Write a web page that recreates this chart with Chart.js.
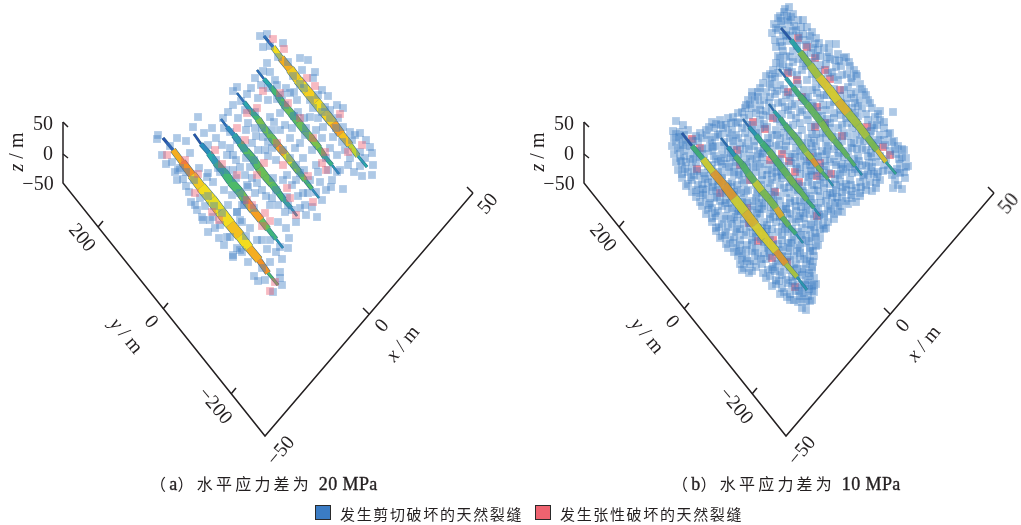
<!DOCTYPE html>
<html>
<head>
<meta charset="utf-8">
<title>水平应力差</title>
<script src="https://cdn.jsdelivr.net/npm/chart.js@4"></script>
<style>
  html, body { margin: 0; background: #fff; }
  #wrap { position: relative; width: 1021px; height: 525px; overflow: hidden; }
  #chart { position: absolute; left: 0; top: 0; filter: blur(0.45px); }
  .lbl { position: absolute; white-space: nowrap; color: #231f20; font-family: "Liberation Serif", serif; font-size: 20px; line-height: 1; transform: translate(-50%, -50%) rotate(var(--r)); }
  .lbl i { font-style: italic; }
  .cap { position: absolute; top: 474px; white-space: nowrap; color: #231f20; font-family: "Noto Sans CJK SC", sans-serif; font-size: 16px; line-height: 18px; letter-spacing: 3.2px; }
  .cap b { font-family: "Liberation Serif", serif; font-weight: normal; font-size: 18px; letter-spacing: 0.4px; -webkit-text-stroke: 0.35px #231f20; }
  .leg { position: absolute; top: 505px; white-space: nowrap; color: #231f20; font-family: "Noto Sans CJK SC", sans-serif; font-size: 15px; line-height: 18px; letter-spacing: 1.65px; }
  .sw { position: absolute; top: 505px; width: 14px; height: 13px; border: 1.5px solid #2a2a2a; }
</style>
</head>
<body>
<div id="wrap"><canvas id="chart" width="1021" height="525"></canvas></div>
<script>
const panelShift = 521;

const axisFrame = [[63,122],[63,183],[265,436],[473,193]];
const axisTicks = [
  [[63,122],[68,127]], [[63,154],[68,158]],
  [[98,227],[103,221]], [[163,309],[168,303]], [[231,394],[236,388]],
  [[369,314],[363,308]], [[473,193],[467,187]]
];

const tickLabels = [
  ['50', 43, 123, 0], ['0', 48, 153, 0], ['\u221250', 38, 183, 0],
  ['200', 83, 237, 50], ['0', 152, 321, 50], ['\u2212200', 216, 405, 50],
  ['\u221250', 280, 450, -50], ['0', 381, 325, -50], ['50', 487, 203, -50]
];
const axisTitles = [
  ['<i>z</i> / m', 16, 152, -90], ['<i>y</i> / m', 127, 335, 50], ['<i>x</i> / m', 402, 343, -50]
];

const legendNames = ['发生剪切破坏的天然裂缝', '发生张性破坏的天然裂缝'];

const fracturesA = [
  [[163,138,.05],[173,150,.82],[182,162,.88],[192,175,.76],[201,187,.72],[211,199,.7],[220,211,.72],[230,224,.78],[240,236,.72],[249,248,.82],[259,260,.88],[268,273,.45],[278,285,.05]],
  [[194,134,.05],[201,144,.2],[209,153,.3],[216,163,.42],[224,172,.42],[231,182,.45],[239,191,.55],[246,201,.8],[253,210,.85],[261,220,.52],[268,229,.4],[276,239,.25],[283,248,.05]],
  [[221,119,.1],[227,127,.22],[234,135,.32],[240,143,.42],[246,151,.47],[253,159,.47],[259,168,.52],[265,176,.52],[272,184,.47],[278,192,.42],[284,200,.36],[291,208,.25],[297,216,.05]],
  [[237,93,.1],[244,102,.3],[251,111,.42],[258,119,.56],[264,128,.52],[271,137,.52],[278,146,.85],[285,154,.68],[292,163,.56],[299,172,.5],[305,180,.45],[312,189,.25],[319,198,.05]],
  [[257,70,.1],[264,79,.3],[271,87,.42],[278,96,.47],[284,105,.52],[291,113,.47],[298,122,.52],[305,131,.56],[312,139,.56],[319,148,.47],[325,157,.38],[332,165,.25],[339,174,.05]],
  [[264,36,.1],[273,47,.72],[281,58,.82],[290,69,.76],[298,80,.72],[307,91,.75],[316,102,.72],[324,112,.75],[333,123,.85],[341,134,.78],[350,145,.65],[358,156,.3],[367,167,.05]]
];
const fracturesB = [
  [[682,133,.05],[692,146,.42],[703,159,.7],[713,172,.85],[724,185,.85],[734,198,.7],[745,212,.78],[755,225,.72],[765,238,.72],[776,251,.85],[786,264,.65],[797,277,.25],[807,290,.05]],
  [[721,138,.1],[728,147,.25],[735,156,.47],[742,164,.47],[748,173,.52],[755,182,.68],[762,191,.58],[769,199,.58],[776,208,.8],[782,217,.52],[789,226,.42],[796,234,.25],[803,243,.05]],
  [[743,119,.1],[749,127,.25],[756,135,.38],[762,143,.42],[769,151,.52],[775,159,.47],[782,168,.52],[788,176,.56],[794,184,.52],[801,192,.52],[807,200,.42],[814,208,.25],[820,216,.05]],
  [[769,104,.1],[774,111,.3],[780,118,.42],[785,125,.47],[790,131,.52],[796,138,.52],[801,145,.58],[806,152,.64],[812,159,.85],[817,166,.58],[822,172,.47],[828,179,.25],[833,186,.05]],
  [[779,69,.1],[786,78,.3],[793,87,.42],[800,96,.47],[807,104,.52],[814,113,.52],[821,122,.58],[827,131,.58],[834,140,.52],[841,148,.52],[848,157,.47],[855,166,.25],[862,175,.05]],
  [[781,28,.05],[791,40,.3],[800,52,.58],[810,65,.64],[819,77,.74],[829,89,.72],[838,101,.78],[848,113,.64],[858,125,.64],[867,137,.58],[877,150,.75],[886,162,.35],[896,174,.05]]
];
const fractureWidthsA = [10.5, 8, 7.5, 7, 7, 9.5];
const fractureWidthsB = [9, 7, 6.5, 6, 6.5, 8.5];

const shearA = [
  [260,36],[267,34],[283,43],[263,47],[278,57],[267,63],[308,60],[302,70],[315,72],[263,71],[255,78],[275,80],[261,85],[277,85],[313,78],
  [294,92],[290,93],[328,96],[237,87],[233,91],[247,94],[277,99],[268,100],[310,100],[313,108],[337,105],[343,108],[325,107],[233,105],[228,112],
  [270,117],[280,113],[310,117],[198,117],[193,127],[248,123],[255,128],[280,130],[323,127],[343,127],[350,132],[360,133],[355,135],[204,133],
  [158,135],[157,139],[177,138],[263,137],[305,135],[333,137],[237,140],[290,138],[370,147],[222,145],[190,153],[372,153],[360,152],[162,155],
  [172,162],[180,168],[177,180],[183,179],[189,192],[191,202],[199,168],[208,173],[213,182],[200,198],[202,217],[210,220],[215,228],[220,225],
  [219,238],[227,237],[237,212],[240,220],[242,205],[255,193],[272,198],[285,212],[278,222],[286,228],[289,238],[280,247],[288,248],[267,249],
  [257,240],[237,248],[233,257],[242,252],[282,259],[254,276],[258,281],[280,272],[280,278],[282,285],[265,280],[273,292],[317,217],[343,189],
  [331,187],[332,180],[372,175],[373,165],[360,166],[348,165],[337,155],[312,207],[303,193],[257,183],[247,185],[240,167],[250,167],[227,155],
  [233,155],[287,197],[300,173],[287,175],[320,182],[273,178],[308,193],[207,177],[220,172],[203,220],[213,217],[230,237],[240,250],[233,255],
  [242,222],[237,212],[240,193],[248,187],[245,200],[254,208],[246,158],[258,150],[265,150],[252,143],[272,130],[285,125],[292,128],[298,112],
  [306,128],[318,118],[330,118],[336,128],[342,142],[330,148],[322,138],[312,150],[303,158],[295,148],[283,150],[276,160],[268,156],[262,128],
  [255,112],[245,110],[238,118],[224,128],[216,138],[212,128],[208,145],[230,148],[236,160],[226,170],[216,160],[224,190],[232,195],[228,205],
  [262,190],[270,205],[276,190],[283,180],[292,185],[298,196],[305,205],[316,192],[322,200],[328,170],[340,170],[350,158],[354,172],[316,165],
  [304,170],[296,165],[272,148],[285,105],[297,100],[304,88],[318,95],[330,110],[286,88],[268,88],[258,98],[178,170],[186,172],[194,180],
  [205,206],[197,210],[222,213],[246,236],[250,228],[262,240],[276,252],[270,240],[296,222],[288,205],[300,208],[245,175],[254,160],[236,178],
  [270,46],[288,62],[300,58],[322,90],[300,84],[270,72],[251,88],[241,101],[223,118],[186,141],[170,146],[166,164],[175,172],[186,186],
  [195,205],[208,196],[214,206],[208,232],[224,245],[248,262],[270,262],[262,268],[292,210],[306,215],[326,190],[337,172],[365,158],[362,176],
  [345,150],[352,140],[366,140],[338,118],[322,112],[304,118],[294,116],[274,122],[246,130],[256,136],[230,132],[218,168],[233,170],[244,148],
  [252,178],[266,196],[278,205],[310,180],[318,172],[296,180],[290,158],[268,142],[300,143],[316,130],[326,158],[282,95],[293,76],[244,205]
];
const tensileA = [
  [273,39],[284,49],[307,78],[315,86],[280,93],[263,91],[288,103],[340,114],[257,108],[247,113],[300,118],[237,128],[313,138],[245,140],[277,143],
  [325,152],[362,145],[215,150],[167,155],[348,152],[185,160],[198,174],[195,193],[237,175],[222,164],[264,163],[257,175],[287,188],[290,198],
  [308,176],[313,202],[326,170],[322,163],[283,165],[265,213],[270,221],[262,226],[296,215],[219,220],[212,212],[275,282],[270,291],[247,200],[252,205]
];

const shearB = [
  [789,7],[784,12],[793,14],[787,16],[778,18],[798,20],[803,20],[774,24],[782,24],[790,22],[807,27],[772,33],[778,30],[796,30],[803,34],[812,32],
  [775,40],[783,36],[790,36],[808,40],[816,38],[819,43],[824,48],[836,44],[776,47],[782,46],[797,46],[813,48],[829,52],[838,54],[778,56],[786,56],
  [804,55],[820,56],[835,60],[844,58],[849,62],[776,63],[773,70],[783,64],[793,62],[812,62],[826,64],[841,66],[854,70],[766,76],[775,77],[792,72],
  [802,70],[818,72],[832,72],[847,74],[857,76],[770,84],[763,83],[780,85],[798,84],[807,80],[822,84],[838,80],[852,82],[860,84],[752,92],[758,92],
  [766,92],[775,94],[790,98],[812,90],[827,95],[844,90],[856,92],[864,92],[748,100],[755,100],[764,100],[782,102],[795,104],[806,98],[820,98],[834,102],
  [847,98],[860,100],[868,100],[738,113],[745,108],[752,108],[760,110],[772,108],[788,110],[802,110],[813,106],[826,110],[840,110],[852,108],[862,108],
  [872,108],[893,112],[878,114],[676,121],[683,125],[712,122],[720,120],[728,118],[736,122],[744,118],[760,120],[770,116],[780,122],[796,118],[808,120],
  [822,116],[834,118],[846,118],[858,116],[868,120],[880,120],[673,131],[680,132],[688,130],[706,130],[714,128],[723,128],[732,130],[742,128],[752,130],
  [760,128],[776,130],[788,128],[802,130],[812,134],[830,128],[838,128],[852,128],[862,132],[874,128],[884,128],[674,138],[682,140],[696,136],[702,138],
  [710,140],[720,134],[730,138],[738,138],[748,138],[758,136],[768,138],[780,138],[790,136],[808,138],[820,138],[832,136],[848,136],[860,140],[870,136],
  [878,140],[888,134],[892,142],[672,146],[680,148],[690,146],[708,148],[716,146],[724,146],[734,146],[746,146],[754,146],[764,148],[776,146],[786,146],
  [796,148],[806,146],[816,146],[828,146],[838,146],[852,148],[862,148],[872,146],[884,140],[898,146],[904,150],[674,154],[684,156],[694,154],[704,154],
  [714,156],[722,154],[730,158],[744,154],[752,156],[760,154],[772,154],[792,154],[800,156],[818,156],[826,154],[838,156],[848,164],[858,156],[868,156],
  [880,156],[896,154],[906,158],[676,162],[686,162],[696,162],[708,166],[718,162],[726,164],[736,162],[746,162],[756,164],[764,164],[778,162],[796,164],
  [806,166],[812,162],[826,166],[834,162],[842,164],[856,164],[866,166],[876,162],[900,164],[908,166],[678,170],[688,172],[700,176],[708,176],[718,172],
  [730,172],[738,172],[756,172],[768,170],[776,172],[786,172],[806,174],[814,170],[824,170],[838,174],[846,172],[858,172],[868,174],[878,172],[888,170],
  [896,172],[904,172],[682,178],[692,180],[702,184],[712,182],[722,178],[732,182],[742,180],[752,180],[762,180],[772,180],[782,178],[790,182],[808,182],
  [820,180],[830,184],[840,182],[850,180],[860,182],[870,182],[880,180],[895,180],[905,178],[686,186],[696,190],[706,190],[716,190],[726,192],[738,190],
  [748,190],[758,190],[768,188],[784,188],[794,190],[802,186],[814,190],[824,188],[836,190],[846,190],[856,188],[866,190],[876,188],[893,188],[902,189],
  [696,197],[706,198],[714,198],[726,200],[736,200],[744,198],[756,198],[766,198],[778,196],[790,198],[800,200],[810,196],[820,196],[832,198],[842,198],
  [852,198],[860,196],[702,206],[712,208],[722,206],[732,208],[744,206],[754,206],[764,206],[774,204],[786,206],[796,206],[808,206],[818,208],[830,206],
  [840,206],[848,204],[706,214],[716,216],[726,216],[738,214],[748,216],[760,214],[770,214],[780,216],[790,214],[800,216],[810,214],[824,214],[834,214],
  [842,212],[712,222],[722,224],[732,224],[744,224],[754,222],[764,222],[776,222],[786,224],[796,222],[806,224],[818,222],[828,222],[716,231],[726,232],
  [736,232],[746,232],[756,232],[766,232],[778,232],[788,232],[798,232],[810,230],[820,230],[826,228],[720,238],[730,240],[740,240],[752,240],[764,242],
  [782,240],[792,240],[802,240],[812,238],[820,238],[728,248],[736,248],[746,250],[756,248],[768,248],[780,250],[790,248],[800,248],[810,248],[816,246],
  [738,256],[746,258],[758,256],[770,256],[782,256],[794,256],[804,256],[814,256],[740,264],[750,264],[762,264],[776,264],[796,264],[806,264],[813,262],
  [742,270],[752,271],[768,270],[780,272],[790,270],[802,272],[812,270],[766,278],[776,280],[786,280],[796,276],[806,280],[814,278],[772,286],[782,288],
  [792,286],[802,288],[812,286],[816,284],[780,294],[790,294],[800,296],[808,296],[814,292],[790,300],[798,302],[806,302],[812,300],[802,308],[806,310],
  [780,16],[788,20],[794,26],[786,30],[776,28],[801,27],[810,36],[780,42],[787,41],[800,40],[815,44],[829,44],[780,58],[790,57],[798,59],[816,56],[830,59],[846,57],
  [780,66],[789,67],[806,66],[820,65],[836,67],[850,66],[770,74],[778,73],[797,75],[812,74],[828,73],[842,75],[856,74],[760,88],[772,87],[784,89],[804,90],[816,87],
  [834,89],[848,87],[862,89],[752,96],[770,97],[786,95],[808,97],[824,95],[840,96],[854,98],[866,95],[750,104],[760,105],[778,103],[792,106],[812,103],[830,105],
  [846,104],[858,106],[870,103],[742,112],[756,113],[766,111],[782,114],[800,112],[818,111],[834,113],[848,112],[866,114],[880,111],[716,124],[726,125],[738,123],
  [752,125],[764,124],[784,126],[800,123],[816,125],[830,123],[842,125],[856,123],[872,125],[884,122],[676,134],[684,135],[700,133],[718,135],[728,133],[736,135],
  [756,133],[772,135],[784,133],[798,136],[816,134],[826,135],[844,133],[856,135],[866,132],[880,135],[890,133],[676,142],[686,143],[698,141],[712,143],[724,142],
  [742,143],[754,141],[770,143],[786,141],[802,143],[814,141],[826,143],[842,141],[854,143],[864,141],[876,143],[894,141],[678,150],[686,151],[702,149],[712,151],
  [728,150],[740,149],[758,151],[768,149],[784,150],[800,151],[812,149],[822,151],[834,149],[848,151],[866,150],[876,149],[890,151],[902,149],[680,158],[690,159],
  [700,157],[716,159],[724,158],[738,157],[750,159],[762,157],[780,159],[790,157],[804,159],[818,157],[830,159],[844,157],[854,159],[872,157],[886,159],[902,157],
  [682,166],[692,167],[712,165],[722,167],[734,166],[742,165],[760,167],[772,165],[784,166],[800,167],[810,165],[820,167],[836,165],[850,167],[862,165],[872,167],
  [884,165],[906,167],[682,174],[694,175],[704,173],[722,175],[734,174],[744,173],[762,175],[772,173],[782,175],[800,174],[812,175],[820,173],[840,175],[852,173],
  [864,175],[874,174],[892,175],[900,173],[688,184],[698,185],[708,183],[718,185],[728,184],[744,183],[756,185],[770,183],[780,185],[798,184],[812,185],[824,183],
  [836,185],[846,184],[866,185],[876,183],[898,185],[692,192],[700,193],[712,191],[722,193],[734,192],[746,191],[762,193],[774,191],[786,193],[798,192],[806,193],
  [818,191],[830,193],[842,192],[852,191],[860,193],[872,191],[700,202],[710,203],[720,201],[730,203],[742,202],[752,201],[762,203],[780,201],[790,203],[804,202],
  [814,203],[826,201],[838,203],[846,201],[856,202],[708,210],[718,211],[728,209],[736,211],[752,210],[762,209],[774,211],[786,209],[796,211],[806,210],[816,211],
  [828,209],[838,211],[712,218],[724,219],[734,217],[744,219],[756,218],[770,219],[780,217],[792,219],[804,218],[814,219],[824,217],[834,219],[716,228],[728,227],
  [740,229],[750,227],[762,228],[772,229],[782,227],[792,229],[802,228],[814,227],[824,229],[722,236],[734,237],[744,235],[756,237],[770,236],[782,235],[794,237],
  [806,235],[816,237],[726,244],[740,245],[752,243],[764,245],[778,244],[788,243],[798,245],[806,243],[818,245],[734,252],[742,253],[752,251],[764,253],[776,252],
  [788,251],[800,253],[810,251],[742,260],[754,261],[766,259],[778,261],[790,260],[800,259],[810,261],[744,268],[756,267],[772,269],[784,267],[794,268],[804,269],
  [812,267],[770,276],[782,275],[792,277],[802,275],[810,276],[776,284],[788,283],[798,285],[808,283],[814,285],[784,292],[796,291],[804,293],[812,291],[794,300],
  [802,299],[810,301],
  [785,9],[791,17],[781,21],[786,35],[799,36],[793,31],[806,45],[818,50],[793,51],[811,53],[827,57],[783,51],[839,61],[803,63],[772,79],[787,71],[816,79],[834,77],
  [851,78],[758,97],[777,91],[793,93],[817,93],[833,95],[851,94],[746,105],[769,103],[785,107],[803,101],[823,105],[841,103],[855,103],[733,117],[749,115],[763,115],
  [777,119],[791,115],[807,115],[827,119],[841,115],[855,113],[875,117],[709,127],[721,125],[731,123],[747,125],[767,127],[793,125],[811,127],[825,125],[847,123],
  [859,127],[877,125],[679,137],[693,141],[707,135],[715,137],[733,141],[745,133],[767,143],[777,135],[793,141],[811,143],[823,133],[837,137],[851,143],[871,131],
  [885,145],[683,145],[697,151],[713,147],[731,153],[749,149],[763,153],[779,145],[795,157],[813,153],[827,151],[839,153],[857,149],[871,153],[895,149],[681,161],
  [693,159],[705,163],[721,161],[733,157],[747,167],[757,159],[777,167],[791,163],[807,161],[825,161],[841,167],[859,161],[869,163],[883,171],[899,159],[685,169],
  [697,171],[711,169],[729,167],[739,175],[753,167],[767,175],[781,171],[797,169],[811,171],[829,173],[843,169],[855,169],[871,171],[897,169],[691,177],[705,179],
  [719,181],[737,185],[749,175],[761,185],[777,177],[793,179],[809,177],[823,177],[835,179],[851,185],[863,177],[877,177],[703,189],[713,187],[731,187],[741,193],
  [757,193],[771,195],[789,187],[803,191],[817,185],[833,193],[843,187],[861,187],[703,195],[717,197],[733,195],[747,203],[759,201],[773,199],[795,201],[811,199],
  [827,195],[837,197],[851,195],[709,205],[725,203],[739,209],[759,209],[771,207],[783,209],[801,207],[821,203],[835,203],[715,213],[731,219],[741,211],[757,213],
  [773,217],[787,213],[803,213],[819,215],[831,211],[719,227],[737,221],[751,223],[767,225],[783,221],[799,219],[811,225],[823,225],[725,235],[737,229],[753,233],
  [767,229],[785,229],[801,235],[815,233],[733,243],[747,245],[761,239],[773,245],[791,243],[809,241],[739,251],[755,253],[769,251],[783,247],[797,251],[813,251],
  [747,261],[761,259],[773,267],[787,257],[807,259],[749,273],[763,273],[775,271],[797,269],[809,273],[779,281],[793,281],[805,285],[787,297],[799,291],[809,289]
];
const tensileB = [
  [798,38],[807,47],[815,58],[825,70],[788,73],[797,80],[830,79],[840,90],[788,92],[802,97],[817,107],[773,118],[765,129],[753,122],[815,127],[825,123],
  [842,136],[867,127],[883,147],[890,155],[737,150],[700,148],[692,139],[782,154],[810,157],[789,161],[795,172],[820,163],[831,174],[817,176],[799,182],
  [775,192],[697,169],[720,193],[747,208],[749,223],[817,216],[773,240],[758,241],[772,258],[787,262],[795,287],[740,165],[750,180],[770,160]
];

const apertureStops = [[42,63,159],[42,124,198],[39,169,176],[69,184,111],[127,194,74],[242,223,31],[245,156,34],[233,85,46]];

function apertureColor(v, alpha) {
  const pos = v * (apertureStops.length - 1);
  const i = Math.min(apertureStops.length - 2, Math.floor(pos));
  const t = pos - i;
  const mix = apertureStops[i].map((c, k) => Math.round(c + (apertureStops[i + 1][k] - c) * t));
  return 'rgba(' + mix.join(',') + ',' + alpha + ')';
}

function toPoints(list, dx) {
  return list.map(p => ({ x: p[0] + (dx || 0), y: p[1] }));
}

function fractureSets(list, widths, order, alpha) {
  const out = [];
  list.forEach((f, k) => {
    const n = f.length - 1;
    const lens = i => widths[k] * Math.pow(1 - Math.pow(2 * (i + 0.5) / n - 1, 2), 0.8);
    // dark rim under the coloured body
    out.push({
      type: 'line', order: order + 1, data: toPoints(f), pointRadius: 0, borderColor: 'rgba(42,100,136,' + alpha + ')',
      segment: { borderWidth: c => lens(c.p0DataIndex) + 1 }
    });
    out.push({
      type: 'line', order: order, data: toPoints(f), pointRadius: 0, borderColor: '#2a7cc6',
      segment: {
        borderWidth: c => lens(c.p0DataIndex),
        borderColor: c => apertureColor(f[c.p0DataIndex][2], alpha)
      }
    });
  });
  return out;
}

function axisSets(dx) {
  const lineStyle = { type: 'line', order: 9, pointRadius: 0, borderColor: '#231f20', borderWidth: 1.5, tension: 0 };
  const sets = [Object.assign({ data: toPoints(axisFrame, dx) }, lineStyle)];
  axisTicks.forEach(t => sets.push(Object.assign({ data: toPoints(t, dx) }, lineStyle)));
  return sets;
}

function squareSet(list, color, order) {
  return {
    type: 'scatter', order: order, data: toPoints(list), showLine: false,
    pointStyle: 'rect', pointRadius: 5.5, pointHoverRadius: 5.5, pointBorderWidth: 0,
    backgroundColor: color, borderWidth: 0
  };
}

const shearColor = 'rgba(62,126,196,0.42)';
const tensileColor = 'rgba(236,88,108,0.42)';

new Chart(document.querySelector('#chart'), {
  type: 'scatter',
  data: {
    datasets: [
      ...axisSets(0),
      ...axisSets(panelShift),
      ...fractureSets(fracturesA, fractureWidthsA, 5, 1),
      ...fractureSets(fracturesB, fractureWidthsB, 0, 0.82),
      squareSet(tensileA, tensileColor, 2),
      squareSet(shearA, shearColor, 2),
      squareSet(shearB, shearColor, 2),
      squareSet(tensileB, 'rgba(226,62,84,0.6)', 3)
    ]
  },
  options: {
    responsive: false,
    animation: false,
    layout: { padding: 0, autoPadding: false },
    plugins: { legend: { display: false }, tooltip: { enabled: false } },
    scales: {
      x: { type: 'linear', display: false, min: 0, max: 1021 },
      y: { type: 'linear', display: false, min: 0, max: 525, reverse: true }
    }
  }
});

// text around the plots
const wrap = document.querySelector('#wrap');

function addLabel(item, dx) {
  const el = document.createElement('div');
  el.className = 'lbl';
  el.innerHTML = item[0];
  el.style.left = (item[1] + dx) + 'px';
  el.style.top = item[2] + 'px';
  el.style.setProperty('--r', item[3] + 'deg');
  wrap.appendChild(el);
}

[0, panelShift].forEach(dx => {
  tickLabels.forEach(t => addLabel(t, dx));
  axisTitles.forEach(t => addLabel(t, dx));
});

function addCaption(letter, mpa, left) {
  const el = document.createElement('div');
  el.className = 'cap';
  el.style.left = left + 'px';
  el.innerHTML = '（<b>' + letter + '</b>）水平应力差为 <b>' + mpa + ' MPa</b>';
  wrap.appendChild(el);
}
addCaption('a', 20, 150);
addCaption('b', 10, 672);

[[315, '#3b7cc4', 340], [535, '#ee6370', 560]].forEach((s, i) => {
  const sw = document.createElement('div');
  sw.className = 'sw';
  sw.style.left = s[0] + 'px';
  sw.style.background = s[1];
  wrap.appendChild(sw);
  const tx = document.createElement('div');
  tx.className = 'leg';
  tx.style.left = s[2] + 'px';
  tx.textContent = legendNames[i];
  wrap.appendChild(tx);
});
</script>
</body>
</html>
